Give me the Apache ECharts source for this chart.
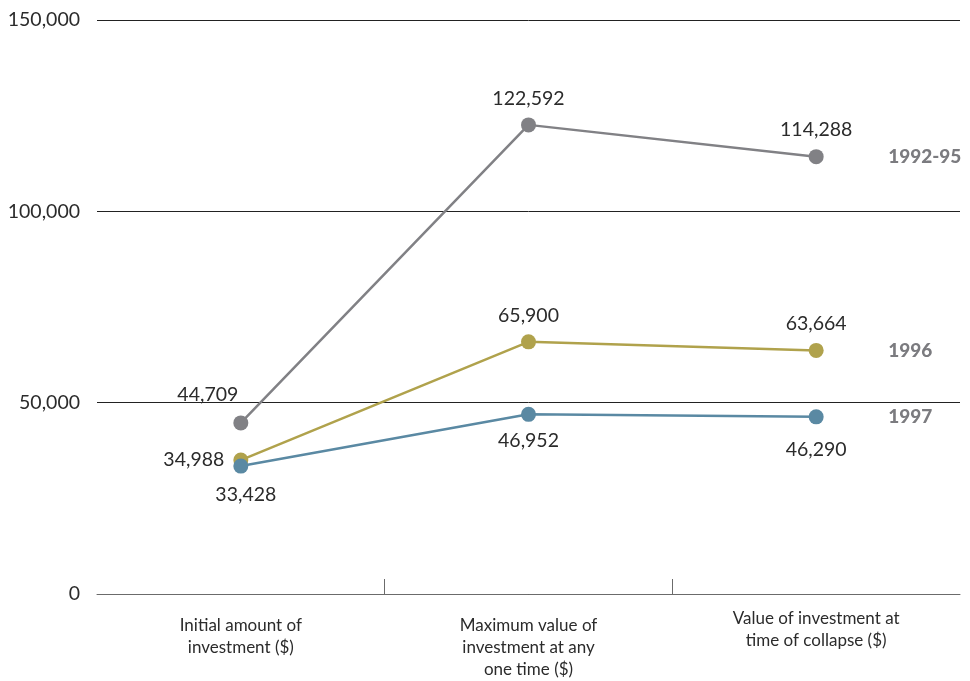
<!DOCTYPE html>
<html>
<head>
<meta charset="utf-8">
<script src="https://cdn.jsdelivr.net/npm/echarts@6/dist/echarts.min.js"></script>
<style>
  html, body { margin: 0; padding: 0; background: #fff; }
  #chart { width: 970px; height: 681px; }
</style>
</head>
<body>
<div id="chart"></div>
<script>
// Investment stages along the x axis
var categories = [
  'Initial amount of\ninvestment ($)',
  'Maximum value of\ninvestment at any\none time ($)',
  'Value of investment at\ntime of collapse ($)'
];

// Dollar values per cohort
var seriesNames = ['1992-95', '1996', '1997'];
var values9295 = [44709, 122592, 114288];
var values1996 = [34988, 65900, 63664];
var values1997 = [33428, 46952, 46290];

// Y axis ticks
var yTicks = [0, 50000, 100000, 150000];

var FONT = 'Lato, "Noto Sans", sans-serif';
var colors = ['#818185', '#b0a24c', '#5a89a3'];

function fmt(v) {
  return Number(v).toLocaleString('en-US');
}

// Per-point label placement for each series
var labelPos9295 = [
  { position: 'top', offset: [-33, -2] },
  { position: 'top' },
  { position: 'top' }
];
var labelPos1996 = [
  { position: 'left' },
  { position: 'top' },
  { position: 'top' }
];
var labelPos1997 = [
  { position: 'bottom', offset: [5, 2] },
  { position: 'bottom' },
  { position: 'bottom', offset: [0, 6] }
];

function buildData(vals, pos) {
  return vals.map(function (v, i) {
    return { value: v, label: pos[i] };
  });
}

function makeSeries(name, vals, pos, color) {
  return {
    name: name,
    type: 'line',
    data: buildData(vals, pos),
    symbol: 'circle',
    symbolSize: 15,
    lineStyle: { color: color, width: 2.5 },
    itemStyle: { color: color },
    label: {
      show: true,
      distance: 9,
      color: '#2b2b2b',
      fontFamily: FONT,
      fontSize: 19.5,
      formatter: function (p) { return fmt(p.value); }
    },
    endLabel: {
      show: true,
      distance: 72,
      formatter: '{a}',
      color: '#7b7b7f',
      fontFamily: FONT,
      fontWeight: 900,
      fontSize: 19
    },
    emphasis: { disabled: true },
    animation: false
  };
}

var chart = echarts.init(document.getElementById('chart'), null, { renderer: 'canvas' });

chart.setOption({
  backgroundColor: '#ffffff',
  animation: false,
  grid: { left: 97, right: 10, top: 20, bottom: 81, containLabel: false },
  xAxis: [
    {
      type: 'category',
      data: categories,
      boundaryGap: true,
      axisLine: { show: true, lineStyle: { color: '#6b6b6b', width: 1 } },
      axisTick: { show: false },
      axisLabel: {
        color: '#2b2b2b',
        fontFamily: FONT,
        fontSize: 17,
        lineHeight: 22,
        margin: 14,
        interval: 0,
        // the last label sits a little higher than the others
        formatter: function (value, index) {
          var lines = value.split('\n').map(function (l) { return '{t|' + l + '}'; });
          if (index !== 2) {
            lines.unshift('{gap| }');
          }
          return lines.join('\n');
        },
        rich: {
          t: { fontFamily: FONT, fontSize: 17, lineHeight: 22, color: '#2b2b2b' },
          gap: { fontSize: 1, lineHeight: 7, height: 7 }
        }
      },
      splitLine: { show: false }
    },
    {
      // Divider ticks between categories
      type: 'value',
      position: 'bottom',
      min: 0,
      max: 3,
      interval: 1,
      axisLine: { show: false },
      axisLabel: { show: false },
      splitLine: { show: false },
      axisTick: {
        show: true,
        inside: true,
        length: 15,
        customValues: [1, 2],
        lineStyle: { color: '#6b6b6b' }
      }
    }
  ],
  yAxis: {
    type: 'value',
    min: yTicks[0],
    max: yTicks[yTicks.length - 1],
    interval: yTicks[1] - yTicks[0],
    axisLine: { show: false },
    axisTick: { show: false },
    axisLabel: {
      color: '#2b2b2b',
      fontFamily: FONT,
      fontSize: 19.5,
      margin: 17,
      formatter: function (v) { return fmt(v); }
    },
    splitLine: { show: true, lineStyle: { color: '#222222', width: 1 } }
  },
  series: [
    makeSeries(seriesNames[0], values9295, labelPos9295, colors[0]),
    makeSeries(seriesNames[1], values1996, labelPos1996, colors[1]),
    makeSeries(seriesNames[2], values1997, labelPos1997, colors[2])
  ]
});
</script>
</body>
</html>
